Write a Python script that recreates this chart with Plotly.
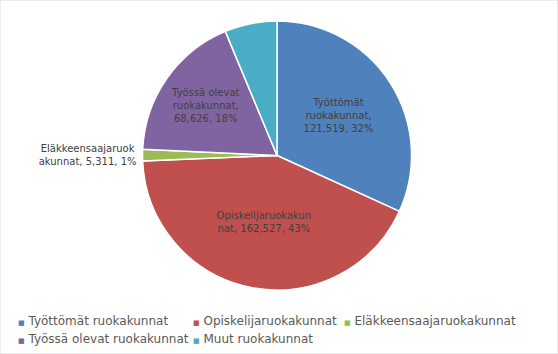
import plotly.graph_objects as go

labels = ["Työttömät ruokakunnat", "Opiskelijaruokakunnat", "Eläkkeensaajaruokakunnat",
          "Työssä olevat ruokakunnat", "Muut ruokakunnat"]
values = [121519, 162527, 5311, 68626, 24000]
colors = ["#4F81BD", "#C0504D", "#9BBB59", "#8064A2", "#4BACC6"]
label_lines = ["Työttömät<br>ruokakunnat,<br>", "Opiskelijaruokakun<br>nat, ",
               "Eläkkeensaajaruok<br>akunnat, ", "Työssä olevat<br>ruokakunnat,<br>", None]
legend_rows = ["legend", "legend", "legend", "legend2", "legend2"]
legend_widths = [145, 121, 175, 145, 326]

templates = [("" if l is None else l + "%{value:,}, %{percent:.0%}") for l in label_lines]
positions = ["inside", "inside", "outside", "inside", "inside"]

fig = go.Figure(go.Pie(
    labels=labels, values=values, sort=False, direction="clockwise", rotation=0,
    marker=dict(colors=colors, line=dict(color="white", width=1.5)),
    texttemplate=templates, textposition=positions,
    insidetextorientation="horizontal",
    textfont=dict(family="DejaVu Sans", size=10, color="#404040"),
    domain=dict(x=[0.05, 0.943], y=[(354-290)/354, (354-21)/354]),
    hoverinfo="label+value+percent", showlegend=False,
))

for name, col, lg, lw in zip(labels, colors, legend_rows, legend_widths):
    fig.add_trace(go.Scatter(
        x=[None], y=[None], mode="markers",
        name=f'<span style="font-size:7px;color:{col}">■</span> {name}',
        marker=dict(symbol="square", size=1, color="rgba(0,0,0,0)",
                    line=dict(width=0, color="rgba(0,0,0,0)")),
        legend=lg, legendwidth=lw, showlegend=True, hoverinfo="skip"))

legend_common = dict(orientation="h", xanchor="right", yanchor="top",
                     font=dict(size=12, color="#595959", family="DejaVu Sans"),
                     itemwidth=30, indentation=-15, bgcolor="rgba(0,0,0,0)")

fig.update_layout(
    width=558, height=354,
    margin=dict(l=0, r=0, t=0, b=0, autoexpand=False),
    paper_bgcolor="white", plot_bgcolor="white",
    font=dict(family="DejaVu Sans", color="#595959"),
    xaxis=dict(visible=False), yaxis=dict(visible=False),
    legend=dict(x=524/558, y=1 - 306/354, **legend_common),
    legend2=dict(x=524/558, y=1 - 324/354, **legend_common),
    shapes=[dict(type="rect", xref="paper", yref="paper", x0=0, y0=0, x1=1, y1=1,
                 line=dict(color="#D9D9D9", width=1))],
)

fig.write_html("out.html")
